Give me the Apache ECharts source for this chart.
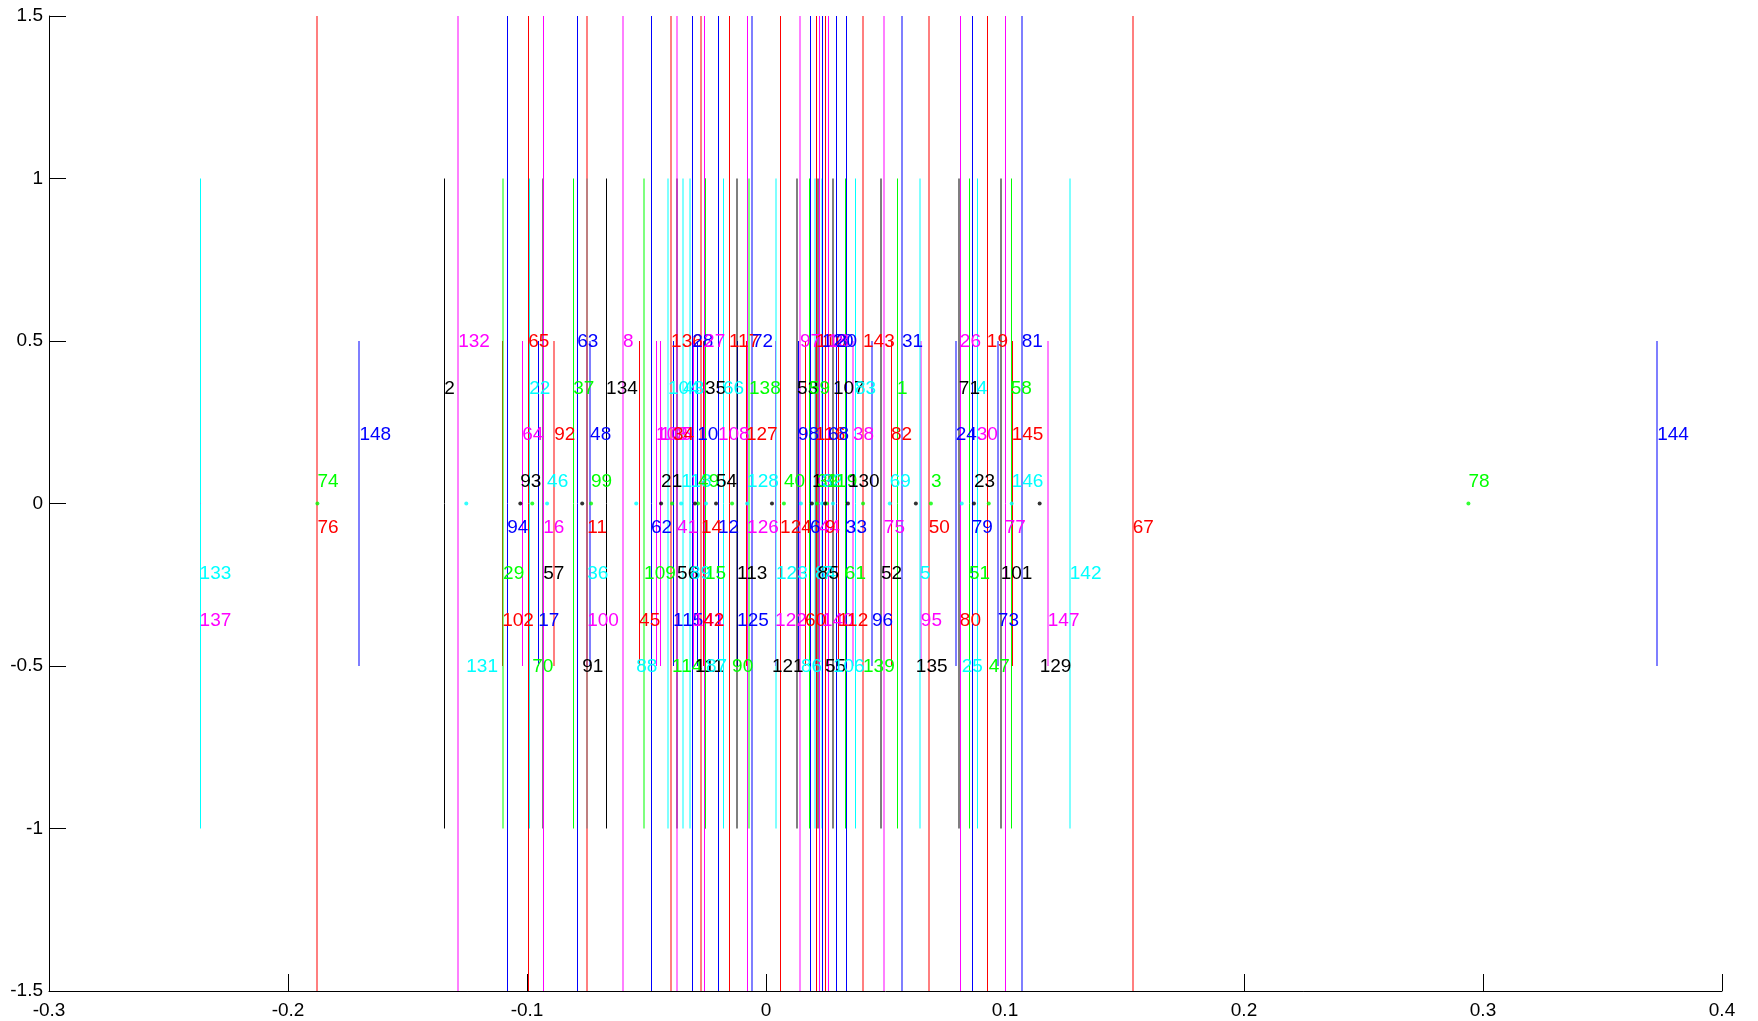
<!DOCTYPE html>
<html>
<head>
<meta charset="utf-8">
<script src="https://cdn.jsdelivr.net/npm/echarts@6/dist/echarts.min.js"></script>
<style>
  html, body { margin: 0; padding: 0; background: #fff; }
  #chart { width: 1758px; height: 1021px; }
</style>
</head>
<body>
<div id="chart"></div>
<script>
// label rows are given in 14ths of a unit: 7 -> 0.5, 5 -> 5/14, ... -7 -> -0.5
// class letters: r g b c m k ; faint = drawn as half-transparent wide stem

// row 7 (full stems)
const idsR7 = [132, 65, 63, 8, 136, 28, 27, 117, 72, 97, 110, 120, 18, 20, 143, 31, 26, 19, 81];
const xR7 = [-0.1288, -0.0995, -0.0790, -0.0598, -0.0397, -0.0309, -0.0259, -0.0155, -0.0059, 0.0142, 0.0209, 0.0234, 0.0259, 0.0293, 0.0406, 0.0569, 0.0811, 0.0924, 0.1070];
const clsR7 = 'mrbmrbmrbmrbmbrbmrb';
const faintR7 = '1001100011000011001';

// row 5 (stems to +-1)
const idsR5 = [2, 22, 37, 134, 104, 43, 35, 66, 138, 53, 59, 107, 83, 1, 71, 4, 58];
const xR5 = [-0.1346, -0.0991, -0.0807, -0.0669, -0.0410, -0.0347, -0.0255, -0.0180, -0.0071, 0.0130, 0.0180, 0.0280, 0.0372, 0.0548, 0.0807, 0.0882, 0.1024];
const clsR5 = 'kcgkcckcgkgkcgkcg';
const faintR5 = '00001110110100100';

// row 3 (stems to +-0.5)
const idsR3 = [148, 64, 92, 48, 103, 105, 34, 10, 108, 127, 98, 116, 68, 38, 82, 24, 30, 145, 144];
const xR3 = [-0.1701, -0.1020, -0.0886, -0.0736, -0.0460, -0.0443, -0.0389, -0.0288, -0.0201, -0.0084, 0.0134, 0.0205, 0.0259, 0.0364, 0.0523, 0.0794, 0.0882, 0.1028, 0.3729];
const clsR3 = 'bmrbmmrbmrbrbmrbmrb';
const faintR3 = '1011000000000101001';

// row 1 (dots only)
const idsR1 = [74, 93, 46, 99, 21, 118, 49, 54, 128, 40, 13, 39, 32, 119, 130, 69, 3, 23, 146, 78];
const xR1 = [-0.1877, -0.1028, -0.0916, -0.0732, -0.0439, -0.0355, -0.0284, -0.0209, -0.0079, 0.0075, 0.0192, 0.0213, 0.0234, 0.0255, 0.0343, 0.0518, 0.0690, 0.0870, 0.1028, 0.2939];
const clsR1 = 'gkcgkcgkcgkgcgkcgkcg';
const faintR1 = '00000000000000000000';

// row -1 (full stems)
const idsM1 = [76, 94, 16, 11, 62, 41, 14, 12, 126, 124, 6, 44, 9, 33, 75, 50, 79, 77, 67];
const xM1 = [-0.1877, -0.1083, -0.0932, -0.0748, -0.0481, -0.0372, -0.0272, -0.0201, -0.0079, 0.0059, 0.0184, 0.0222, 0.0247, 0.0334, 0.0493, 0.0681, 0.0861, 0.0999, 0.1534];
const clsM1 = 'rbmrbmrbmrbmrbmrbmr';
const faintM1 = '1001011000000011001';

// row -3 (stems to +-1)
const idsM3 = [133, 29, 57, 36, 109, 56, 89, 15, 113, 123, 84, 85, 7, 61, 52, 5, 51, 101, 142];
const xM3 = [-0.2370, -0.1100, -0.0932, -0.0748, -0.0510, -0.0372, -0.0318, -0.0255, -0.0121, 0.0042, 0.0205, 0.0217, 0.0234, 0.0330, 0.0481, 0.0644, 0.0849, 0.0982, 0.1271];
const clsM3 = 'cgkcgkcgkcckcgkcgkc';
const faintM3 = '0111111011111011011';

// row -5 (stems to +-0.5)
const idsM5 = [137, 102, 17, 100, 45, 115, 141, 42, 125, 122, 60, 140, 112, 96, 95, 80, 73, 147];
const xM5 = [-0.2370, -0.1104, -0.0953, -0.0748, -0.0531, -0.0389, -0.0305, -0.0263, -0.0121, 0.0038, 0.0163, 0.0234, 0.0301, 0.0443, 0.0648, 0.0811, 0.0970, 0.1179];
const clsM5 = 'mrbmrbmrbmrmrbmrbm';
const faintM5 = '000100000000011011';

// row -7 (dots only)
const idsM7 = [131, 70, 91, 88, 114, 111, 87, 90, 121, 86, 55, 106, 139, 135, 25, 47, 129];
const xM7 = [-0.1254, -0.0978, -0.0769, -0.0543, -0.0393, -0.0297, -0.0251, -0.0142, 0.0025, 0.0146, 0.0247, 0.0280, 0.0406, 0.0627, 0.0819, 0.0932, 0.1145];
const clsM7 = 'cgkcgkcgkckcgkcgk';
const faintM7 = '00000000000000000';

// half height of the stem drawn for each label row (0 = dot at y=0)
const stemHalfByRow = { '7': 1.5, '-1': 1.5, '5': 1, '-3': 1, '3': 0.5, '-5': 0.5, '1': 0, '-7': 0 };

const xTickLabels = ['-0.3', '-0.2', '-0.1', '0', '0.1', '0.2', '0.3', '0.4'];
const yTickLabels = ['-1.5', '-1', '-0.5', '0', '0.5', '1', '1.5'];

const solid = { r: '#ff0000', g: '#00ff00', b: '#0000ff', c: '#00ffff', m: '#ff00ff', k: '#000000' };
const faded = {
  r: 'rgba(255,0,0,0.5)', g: 'rgba(0,255,0,0.5)', b: 'rgba(0,0,255,0.5)',
  c: 'rgba(0,255,255,0.5)', m: 'rgba(255,0,255,0.5)', k: 'rgba(0,0,0,0.5)'
};

const rowTable = [
  [7, idsR7, xR7, clsR7, faintR7],
  [5, idsR5, xR5, clsR5, faintR5],
  [3, idsR3, xR3, clsR3, faintR3],
  [1, idsR1, xR1, clsR1, faintR1],
  [-1, idsM1, xM1, clsM1, faintM1],
  [-3, idsM3, xM3, clsM3, faintM3],
  [-5, idsM5, xM5, clsM5, faintM5],
  [-7, idsM7, xM7, clsM7, faintM7]
];

const points = [];
rowTable.forEach(([row, ids, xs, cls, faint]) => {
  ids.forEach((id, j) => {
    points.push({ id: id, x: xs[j], row: row, cls: cls[j], faint: faint[j] === '1' });
  });
});

const stems = [];
const dots = [];
const labels = [];
points.forEach((p, i) => {
  const h = stemHalfByRow[String(p.row)];
  if (h > 0) {
    stems.push([p.x, h, i]);
  } else {
    dots.push({ value: [p.x, 0], itemStyle: { color: solid[p.cls] } });
  }
  labels.push([p.x, p.row / 14, i]);
});
// short stems first so the longer ones sit on top; faint before solid
stems.sort((a, b) => (a[1] - b[1]) || (points[b[2]].faint - points[a[2]].faint));

function stemRenderer(params, api) {
  const p = points[api.value(2)];
  const h = api.value(1);
  const top = api.coord([api.value(0), h]);
  const bot = api.coord([api.value(0), -h]);
  const px = p.faint ? Math.round(top[0]) : Math.round(top[0]) + 0.5;
  return {
    type: 'line',
    shape: { x1: px, y1: top[1], x2: px, y2: bot[1] },
    style: { stroke: p.faint ? faded[p.cls] : solid[p.cls], lineWidth: p.faint ? 2 : 1 }
  };
}

const chart = echarts.init(document.getElementById('chart'));
const font = '"Liberation Sans", Arial, Helvetica, sans-serif';

chart.setOption({
  animation: false,
  backgroundColor: '#fff',
  grid: { left: 49, right: 36, top: 16, bottom: 30, containLabel: false },
  xAxis: {
    type: 'value', min: -0.3, max: 0.4, interval: 0.1,
    axisLine: { show: true, onZero: false, lineStyle: { color: '#000', width: 1 } },
    axisTick: { show: true, inside: true, length: 17, lineStyle: { color: '#000', width: 1 } },
    axisLabel: {
      color: '#000', fontSize: 19, fontFamily: font, margin: 10,
      formatter: (v) => xTickLabels[Math.round((v + 0.3) * 10)]
    },
    splitLine: { show: false }
  },
  yAxis: {
    type: 'value', min: -1.5, max: 1.5, interval: 0.5,
    axisLine: { show: true, onZero: false, lineStyle: { color: '#000', width: 1 } },
    axisTick: { show: true, inside: true, length: 17, lineStyle: { color: '#000', width: 1 } },
    axisLabel: {
      color: '#000', fontSize: 19, fontFamily: font, margin: 6,
      formatter: (v) => yTickLabels[Math.round((v + 1.5) * 2)]
    },
    splitLine: { show: false }
  },
  series: [
    { type: 'custom', silent: true, renderItem: stemRenderer, data: stems, z: 1 },
    {
      type: 'scatter', silent: true, symbol: 'circle', symbolSize: 4,
      data: dots, z: 3
    },
    {
      type: 'custom', silent: true, z: 4, data: labels,
      renderItem: (params, api) => {
        const p = points[api.value(2)];
        const c = api.coord([api.value(0), api.value(1)]);
        return {
          type: 'text', x: c[0], y: c[1] + 1,
          style: {
            text: String(p.id), fill: solid[p.cls],
            font: '19px ' + font, align: 'left', verticalAlign: 'middle'
          }
        };
      }
    }
  ]
});
</script>
</body>
</html>
